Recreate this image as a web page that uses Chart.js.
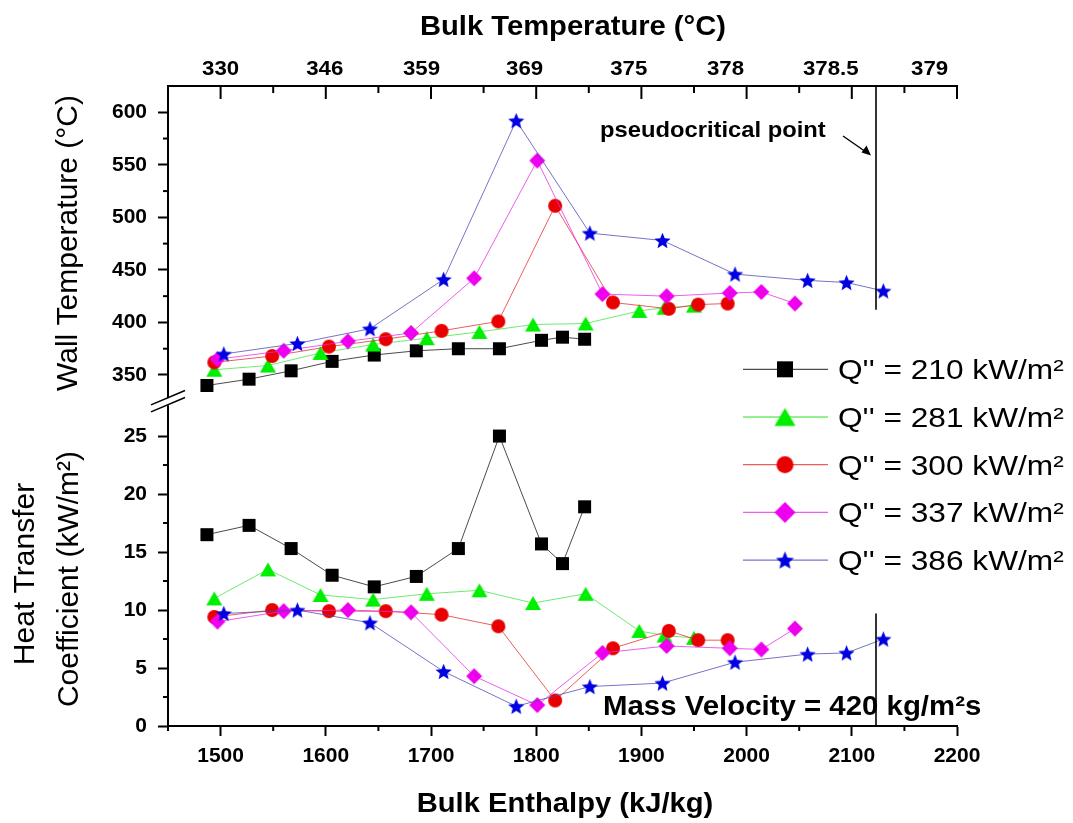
<!DOCTYPE html>
<html><head><meta charset="utf-8">
<script src="https://cdn.jsdelivr.net/npm/chart.js@4.4.1/dist/chart.umd.min.js"></script>
<style>html,body{margin:0;padding:0;background:#fff}canvas{display:block}</style>
</head><body>
<canvas id="c" width="1073" height="823"></canvas>
<script>
// ---------------- data ----------------
const seriesLabels = ["Q'' = 210 kW/m²", "Q'' = 281 kW/m²", "Q'' = 300 kW/m²", "Q'' = 337 kW/m²", "Q'' = 386 kW/m²"];

const enthalpy210 = [1487, 1527, 1567, 1606, 1646, 1686, 1726, 1765, 1805, 1825, 1846];
const wallTemp210 = [340, 346, 354, 363, 369, 373, 375, 375, 383, 386, 384];
const htc210      = [16.5, 17.3, 15.3, 13.0, 12.0, 12.9, 15.3, 25.0, 15.7, 14.0, 18.9];

const enthalpy281 = [1494, 1545, 1595, 1645, 1696, 1746, 1797, 1847, 1898, 1922, 1950];
const wallTemp281 = [355, 359, 371, 379, 385, 391, 398, 399, 411, 414, 416];
const htc281      = [11.0, 13.5, 11.3, 10.9, 11.4, 11.7, 10.6, 11.4, 8.2, 7.8, 7.6];

const enthalpy300 = [1494, 1549, 1603, 1657, 1710, 1764, 1818, 1873, 1926, 1954, 1982];
const wallTemp300 = [362, 368, 377, 384, 392, 401, 511, 419, 413, 417, 418];
const htc300      = [9.4, 10.0, 9.9, 9.9, 9.6, 8.6, 2.2, 6.7, 8.2, 7.4, 7.4];

const enthalpy337 = [1497, 1560, 1621, 1681, 1741, 1801, 1863, 1924, 1984, 2014, 2046];
const wallTemp337 = [365, 373, 382, 390, 442, 554, 427, 425, 428, 429, 418];
const htc337      = [9.0, 9.9, 10.0, 9.8, 4.3, 1.8, 6.3, 6.9, 6.7, 6.6, 8.4];

const enthalpy386 = [1503, 1573, 1642, 1712, 1781, 1851, 1920, 1989, 2058, 2095, 2130];
const wallTemp386 = [370, 380, 394, 441, 592, 485, 478, 446, 440, 438, 430];
const htc386      = [9.7, 10.0, 8.9, 4.7, 1.7, 3.4, 3.7, 5.5, 6.2, 6.3, 7.5];

const enthalpyTicks = [1500, 1600, 1700, 1800, 1900, 2000, 2100, 2200];
const enthalpyMinorTicks = [1450, 1550, 1650, 1750, 1850, 1950, 2050, 2150];
const wallTempTicks = [350, 400, 450, 500, 550, 600];
const wallTempMinorTicks = [375, 425, 475, 525, 575];
const htcTicks = [0, 5, 10, 15, 20, 25];
const htcMinorTicks = [2.5, 7.5, 12.5, 17.5, 22.5];
const bulkTempLabels = ['330', '346', '359', '369', '375', '378', '378.5', '379'];
const bulkTempLabelEnthalpy = [1500, 1599, 1691, 1789, 1888, 1980, 2080, 2174];
const pseudoCriticalEnthalpy = 2123;
const pseudoLineWallTempEnd = 412;
const pseudoLineHtcStart = 9.7;

// ---------------- styles ----------------
const FONT = "'Liberation Sans', Arial, sans-serif";
const markerColors = ['#000000', '#00ee00', '#e80000', '#ee00ee', '#0000e0'];
const lineColors = ['rgba(30,30,30,0.8)', 'rgba(60,230,60,0.75)', 'rgba(230,40,40,0.75)', 'rgba(230,40,230,0.75)', 'rgba(70,70,180,0.75)'];
const shapes = ['square', 'triangle', 'circle', 'diamond', 'star'];
const dataSizes = [13, 16, 14, 16, 17];
const legendSizes = [16, 21, 17, 21, 19];

function makeMarker(shape, w, color) {
  const c = document.createElement('canvas');
  const s = Math.ceil(w) + 2;
  c.width = s; c.height = s;
  const g = c.getContext('2d');
  g.fillStyle = color;
  const m = s / 2;
  g.beginPath();
  if (shape === 'square') {
    g.rect(m - w / 2, m - w / 2, w, w);
  } else if (shape === 'triangle') {
    const h = w * 0.86;
    g.moveTo(m, m - h / 2); g.lineTo(m + w / 2, m + h / 2); g.lineTo(m - w / 2, m + h / 2);
  } else if (shape === 'circle') {
    g.arc(m, m, w / 2, 0, Math.PI * 2);
  } else if (shape === 'diamond') {
    g.moveTo(m, m - w / 2); g.lineTo(m + w / 2, m); g.lineTo(m, m + w / 2); g.lineTo(m - w / 2, m);
  } else if (shape === 'star') {
    const R = w / 2, r = R * 0.45, cy = m + R * 0.09;
    for (let k = 0; k < 10; k++) {
      const a = -Math.PI / 2 + k * Math.PI / 5;
      const rr = (k % 2) ? r : R;
      const px = m + rr * Math.cos(a), py = cy + rr * Math.sin(a);
      if (k === 0) g.moveTo(px, py); else g.lineTo(px, py);
    }
  }
  g.closePath();
  g.fill();
  return c;
}

const dataMarkers = shapes.map((s, i) => makeMarker(s, dataSizes[i], markerColors[i]));
const legendMarkers = shapes.map((s, i) => makeMarker(s, legendSizes[i], markerColors[i]));

const enthalpies = [enthalpy210, enthalpy281, enthalpy300, enthalpy337, enthalpy386];
const wallTemps = [wallTemp210, wallTemp281, wallTemp300, wallTemp337, wallTemp386];
const htcs = [htc210, htc281, htc300, htc337, htc386];

function mkSet(i, axis, xs, ys) {
  return {
    label: seriesLabels[i],
    data: xs.map((x, k) => ({ x: x, y: ys[k] })),
    xAxisID: 'x', yAxisID: axis,
    borderColor: lineColors[i], borderWidth: 1,
    backgroundColor: markerColors[i],
    pointStyle: dataMarkers[i], pointRadius: 7, pointHoverRadius: 7,
    showLine: true, tension: 0, fill: false, clip: false,
    order: 4 - i
  };
}
const datasets = [];
for (let i = 0; i < 5; i++) datasets.push(mkSet(i, 'yT', enthalpies[i], wallTemps[i]));
for (let i = 0; i < 5; i++) datasets.push(mkSet(i, 'yH', enthalpies[i], htcs[i]));

const tickFont = { family: FONT, size: 21, weight: 'bold' };
function axisCommon(extra) {
  return Object.assign({
    type: 'linear',
    grid: { display: true, drawOnChartArea: false, drawTicks: true, tickLength: 10, tickWidth: 2, tickColor: '#000', color: '#000' },
    border: { display: true, color: '#000', width: 2 },
    ticks: { font: tickFont, color: '#000', callback: v => String(v) }
  }, extra);
}

function stretchText(ctx, text, x, y, sx, align) {
  ctx.save(); ctx.translate(x, y); ctx.scale(sx, 1); ctx.textAlign = align; ctx.fillText(text, 0, 0); ctx.restore();
}

const deco = {
  id: 'deco',
  afterDraw(chart) {
    const { ctx, chartArea: ca, scales } = chart;
    const sx = scales.x, yT = scales.yT, yH = scales.yH;
    ctx.save();
    ctx.strokeStyle = '#000'; ctx.fillStyle = '#000';
    const seg = (x1, y1, x2, y2, w) => { ctx.lineWidth = w; ctx.beginPath(); ctx.moveTo(x1, y1); ctx.lineTo(x2, y2); ctx.stroke(); };

    // top axis line and inward ticks
    seg(ca.left - 1, ca.top, ca.right + 1, ca.top, 2);
    enthalpyTicks.forEach(v => { const p = sx.getPixelForValue(v); seg(p, ca.top, p, ca.top + 13, 2); });
    enthalpyMinorTicks.forEach(v => { const p = sx.getPixelForValue(v); seg(p, ca.top, p, ca.top + 7, 2); });
    // bottom minor ticks
    enthalpyMinorTicks.forEach(v => { const p = sx.getPixelForValue(v); seg(p, ca.bottom, p, ca.bottom + 5, 2); });
    // left minor ticks
    wallTempMinorTicks.forEach(v => { const p = yT.getPixelForValue(v); seg(ca.left, p, ca.left - 5, p, 2); });
    htcMinorTicks.forEach(v => { const p = yH.getPixelForValue(v); seg(ca.left, p, ca.left - 5, p, 2); });

    // axis break
    const by = yT.bottom;
    ctx.fillStyle = '#fff';
    ctx.fillRect(ca.left - 3, by - 3, 6, 7);
    ctx.fillStyle = '#000';
    const slope = 0.42;
    [-3.5, 3.5].forEach(d => {
      seg(ca.left - 17, by + d + 17 * slope, ca.left + 17, by + d - 17 * slope, 1.6);
    });

    // pseudocritical line
    const px = sx.getPixelForValue(pseudoCriticalEnthalpy);
    seg(px, ca.top, px, yT.getPixelForValue(pseudoLineWallTempEnd), 1.6);
    seg(px, yH.getPixelForValue(pseudoLineHtcStart), px, ca.bottom, 1.6);

    // top axis labels
    ctx.font = 'bold 21px ' + FONT;
    ctx.textBaseline = 'alphabetic';
    bulkTempLabels.forEach((t, i) => {
      stretchText(ctx, t, sx.getPixelForValue(bulkTempLabelEnthalpy[i]), 75, 1.06, 'center');
    });

    // titles
    ctx.font = 'bold 27px ' + FONT;
    stretchText(ctx, 'Bulk Temperature (°C)', 573, 35, 1.08, 'center');
    stretchText(ctx, 'Bulk Enthalpy (kJ/kg)', 565, 812, 1.08, 'center');

    ctx.font = '30px ' + FONT;
    const rot = (text, x, y) => { ctx.save(); ctx.translate(x, y); ctx.rotate(-Math.PI / 2); ctx.textAlign = 'center'; ctx.fillText(text, 0, 0); ctx.restore(); };
    rot('Wall Temperature (°C)', 77, 243);
    rot('Heat Transfer', 34, 574);
    rot('Coefficient (kW/m²)', 78, 579);

    // annotations
    ctx.font = 'bold 22px ' + FONT;
    stretchText(ctx, 'pseudocritical point', 600, 137, 1.08, 'left');
    seg(843, 136, 866, 152, 1.4);
    ctx.beginPath();
    ctx.moveTo(871, 155.5); ctx.lineTo(861.5, 152.5); ctx.lineTo(866.5, 145.5); ctx.closePath(); ctx.fill();

    ctx.font = 'bold 28px ' + FONT;
    stretchText(ctx, 'Mass Velocity = 420 kg/m²s', 603, 715, 1.05, 'left');

    // legend
    ctx.font = '28px ' + FONT;
    for (let i = 0; i < 5; i++) {
      const y = 369.3 + i * 47.7;
      ctx.strokeStyle = lineColors[i];
      seg(743, y, 828, y, 1.3);
      const mk = legendMarkers[i];
      ctx.drawImage(mk, 785 - mk.width / 2, y - mk.height / 2);
      ctx.fillStyle = '#000';
      stretchText(ctx, seriesLabels[i], 838, y + 10, 1.13, 'left');
    }
    ctx.restore();
  }
};

new Chart(document.getElementById('c').getContext('2d'), {
  type: 'scatter',
  data: { datasets: datasets },
  options: {
    responsive: false,
    animation: false,
    events: [],
    layout: { padding: { left: 0, right: 116, top: 86, bottom: 0 } },
    plugins: { legend: { display: false }, tooltip: { enabled: false }, title: { display: false } },
    scales: {
      x: axisCommon({
        position: 'bottom', min: 1450, max: 2200,
        afterBuildTicks: s => { s.ticks = enthalpyTicks.map(v => ({ value: v })); },
        afterFit: s => { s.height = 97; },
        ticks: { font: tickFont, color: '#000', padding: 8, maxRotation: 0, callback: v => String(v) }
      }),
      yH: axisCommon({
        position: 'left', stack: 'left', stackWeight: 324.5, min: 0, max: 28,
        afterBuildTicks: s => { s.ticks = htcTicks.map(v => ({ value: v })); },
        afterFit: s => { s.width = 168; },
        ticks: { font: tickFont, color: '#000', padding: 11, callback: v => String(v) }
      }),
      yT: axisCommon({
        position: 'left', stack: 'left', stackWeight: 315, min: 325, max: 625,
        afterBuildTicks: s => { s.ticks = wallTempTicks.map(v => ({ value: v })); },
        afterFit: s => { s.width = 168; },
        ticks: { font: tickFont, color: '#000', padding: 11, callback: v => String(v) }
      })
    }
  },
  plugins: [deco]
});
</script>
</body></html>
